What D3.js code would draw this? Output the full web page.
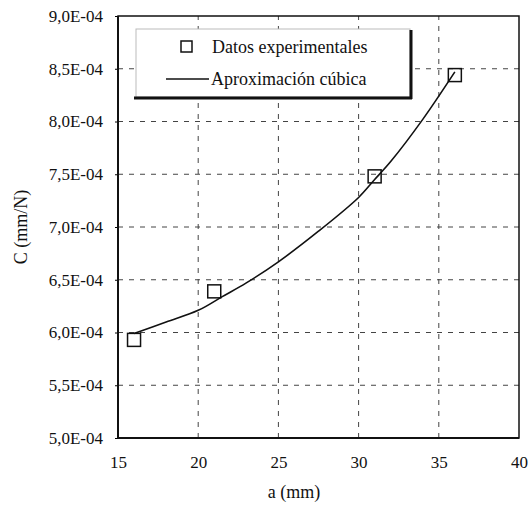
<!DOCTYPE html>
<html>
<head>
<meta charset="utf-8">
<script src="https://cdn.jsdelivr.net/npm/d3@7"></script>
<style>
  body { margin: 0; background: #fff; }
</style>
</head>
<body>
<div id="chart"></div>
<script>
// data
const xTicks = [15, 20, 25, 30, 35, 40];
const yTicks = [5.0e-4, 5.5e-4, 6.0e-4, 6.5e-4, 7.0e-4, 7.5e-4, 8.0e-4, 8.5e-4, 9.0e-4];
const yTickLabels = ["5,0E-04", "5,5E-04", "6,0E-04", "6,5E-04", "7,0E-04", "7,5E-04", "8,0E-04", "8,5E-04", "9,0E-04"];

// experimental points
const expA = [16, 21, 31, 36];
const expC = [5.93e-4, 6.39e-4, 7.48e-4, 8.44e-4];

// cubic approximation, traced
const fitA = [16, 18, 20, 21.5, 23, 25, 27.5, 30, 31, 32, 34, 36];
const fitC = [5.99e-4, 6.10e-4, 6.21e-4, 6.34e-4, 6.47e-4, 6.67e-4, 6.96e-4, 7.28e-4, 7.45e-4, 7.62e-4, 8.02e-4, 8.47e-4];

const legendLabels = ["Datos experimentales", "Aproximación cúbica"];

const W = 532, H = 513;
const margin = { top: 16, right: 13, bottom: 75, left: 118 };
const FONT = "'Liberation Serif'";

const svg = d3.select("#chart").append("svg")
    .attr("width", W)
    .attr("height", H);

svg.append("rect").attr("width", W).attr("height", H).attr("fill", "#fff");

const x = d3.scaleLinear().domain([15, 40]).range([margin.left, W - margin.right]);
const y = d3.scaleLinear().domain([5.0e-4, 9.0e-4]).range([H - margin.bottom, margin.top]);

// grid
const grid = svg.append("g")
    .attr("stroke", "#444")
    .attr("stroke-width", 1)
    .attr("stroke-dasharray", "5,6");

grid.selectAll(".hg")
    .data(yTicks.slice(1, -1))
    .enter().append("line")
    .attr("x1", x(15)).attr("x2", x(40))
    .attr("y1", d => y(d)).attr("y2", d => y(d));

grid.selectAll(".vg")
    .data(xTicks.slice(1, -1))
    .enter().append("line")
    .attr("y1", y(5e-4)).attr("y2", y(9e-4))
    .attr("x1", d => x(d)).attr("x2", d => x(d));

// y axis
const yAxis = svg.append("g")
    .attr("transform", "translate(" + margin.left + ",0)")
    .call(d3.axisLeft(y)
        .tickValues(yTicks)
        .tickSize(3)
        .tickPadding(12)
        .tickFormat((d, i) => yTickLabels[i]));
yAxis.select(".domain").remove();
yAxis.selectAll("text")
    .style("font-family", FONT)
    .style("font-size", "17px")
    .attr("fill", "#111");

// x axis
const xAxis = svg.append("g")
    .attr("transform", "translate(0," + (H - margin.bottom) + ")")
    .call(d3.axisBottom(x)
        .tickValues(xTicks)
        .tickSize(0)
        .tickPadding(18)
        .tickFormat(d3.format("d")));
xAxis.select(".domain").remove();
xAxis.selectAll("text")
    .style("font-family", FONT)
    .style("font-size", "17px")
    .attr("fill", "#111");

// frame
svg.append("rect")
    .attr("x", x(15)).attr("y", y(9e-4))
    .attr("width", x(40) - x(15)).attr("height", y(5e-4) - y(9e-4))
    .attr("fill", "none").attr("stroke", "#111").attr("stroke-width", 1.5);
svg.append("line")
    .attr("x1", x(15)).attr("x2", x(15)).attr("y1", y(9e-4)).attr("y2", y(5e-4))
    .attr("stroke", "#111").attr("stroke-width", 2);
svg.append("line")
    .attr("x1", x(15)).attr("x2", x(40)).attr("y1", y(5e-4)).attr("y2", y(5e-4))
    .attr("stroke", "#111").attr("stroke-width", 2);

// fitted curve
const fit = fitA.map((a, i) => [a, fitC[i]]);
svg.append("path")
    .datum(fit)
    .attr("fill", "none")
    .attr("stroke", "#111")
    .attr("stroke-width", 1.6)
    .attr("d", d3.line()
        .x(d => x(d[0]))
        .y(d => y(d[1]))
        .curve(d3.curveCatmullRom));

// experimental squares
const sq = 13;
svg.selectAll(".pt")
    .data(expA.map((a, i) => [a, expC[i]]))
    .enter().append("rect")
    .attr("x", d => x(d[0]) - sq / 2)
    .attr("y", d => y(d[1]) - sq / 2)
    .attr("width", sq).attr("height", sq)
    .attr("fill", "none")
    .attr("stroke", "#111")
    .attr("stroke-width", 1.5);

// legend
const lg = svg.append("g").attr("transform", "translate(136,29)");
lg.append("rect")
    .attr("width", 274).attr("height", 68)
    .attr("fill", "#fff")
    .attr("stroke", "#bbb").attr("stroke-width", 1);
lg.append("line").attr("x1", 275).attr("x2", 275).attr("y1", 1).attr("y2", 70)
    .attr("stroke", "#111").attr("stroke-width", 3);
lg.append("line").attr("x1", -2).attr("x2", 276).attr("y1", 69).attr("y2", 69)
    .attr("stroke", "#111").attr("stroke-width", 3);

lg.append("rect")
    .attr("x", 45).attr("y", 12).attr("width", 11).attr("height", 11)
    .attr("fill", "none").attr("stroke", "#111").attr("stroke-width", 1.5);
lg.append("line")
    .attr("x1", 30).attr("x2", 73).attr("y1", 50).attr("y2", 50)
    .attr("stroke", "#111").attr("stroke-width", 1.6);

lg.selectAll(".lt")
    .data(legendLabels)
    .enter().append("text")
    .attr("x", (d, i) => i === 0 ? 76 : 75)
    .attr("y", (d, i) => i === 0 ? 24 : 56)
    .style("font-family", FONT)
    .style("font-size", "18px")
    .attr("fill", "#111")
    .text(d => d);

// axis titles
svg.append("text")
    .attr("x", 294).attr("y", 498)
    .attr("text-anchor", "middle")
    .style("font-family", FONT)
    .style("font-size", "18px")
    .attr("fill", "#111")
    .text("a (mm)");

svg.append("text")
    .attr("transform", "translate(27,227) rotate(-90)")
    .attr("text-anchor", "middle")
    .style("font-family", FONT)
    .style("font-size", "18px")
    .attr("fill", "#111")
    .text("C (mm/N)");
</script>
</body>
</html>
